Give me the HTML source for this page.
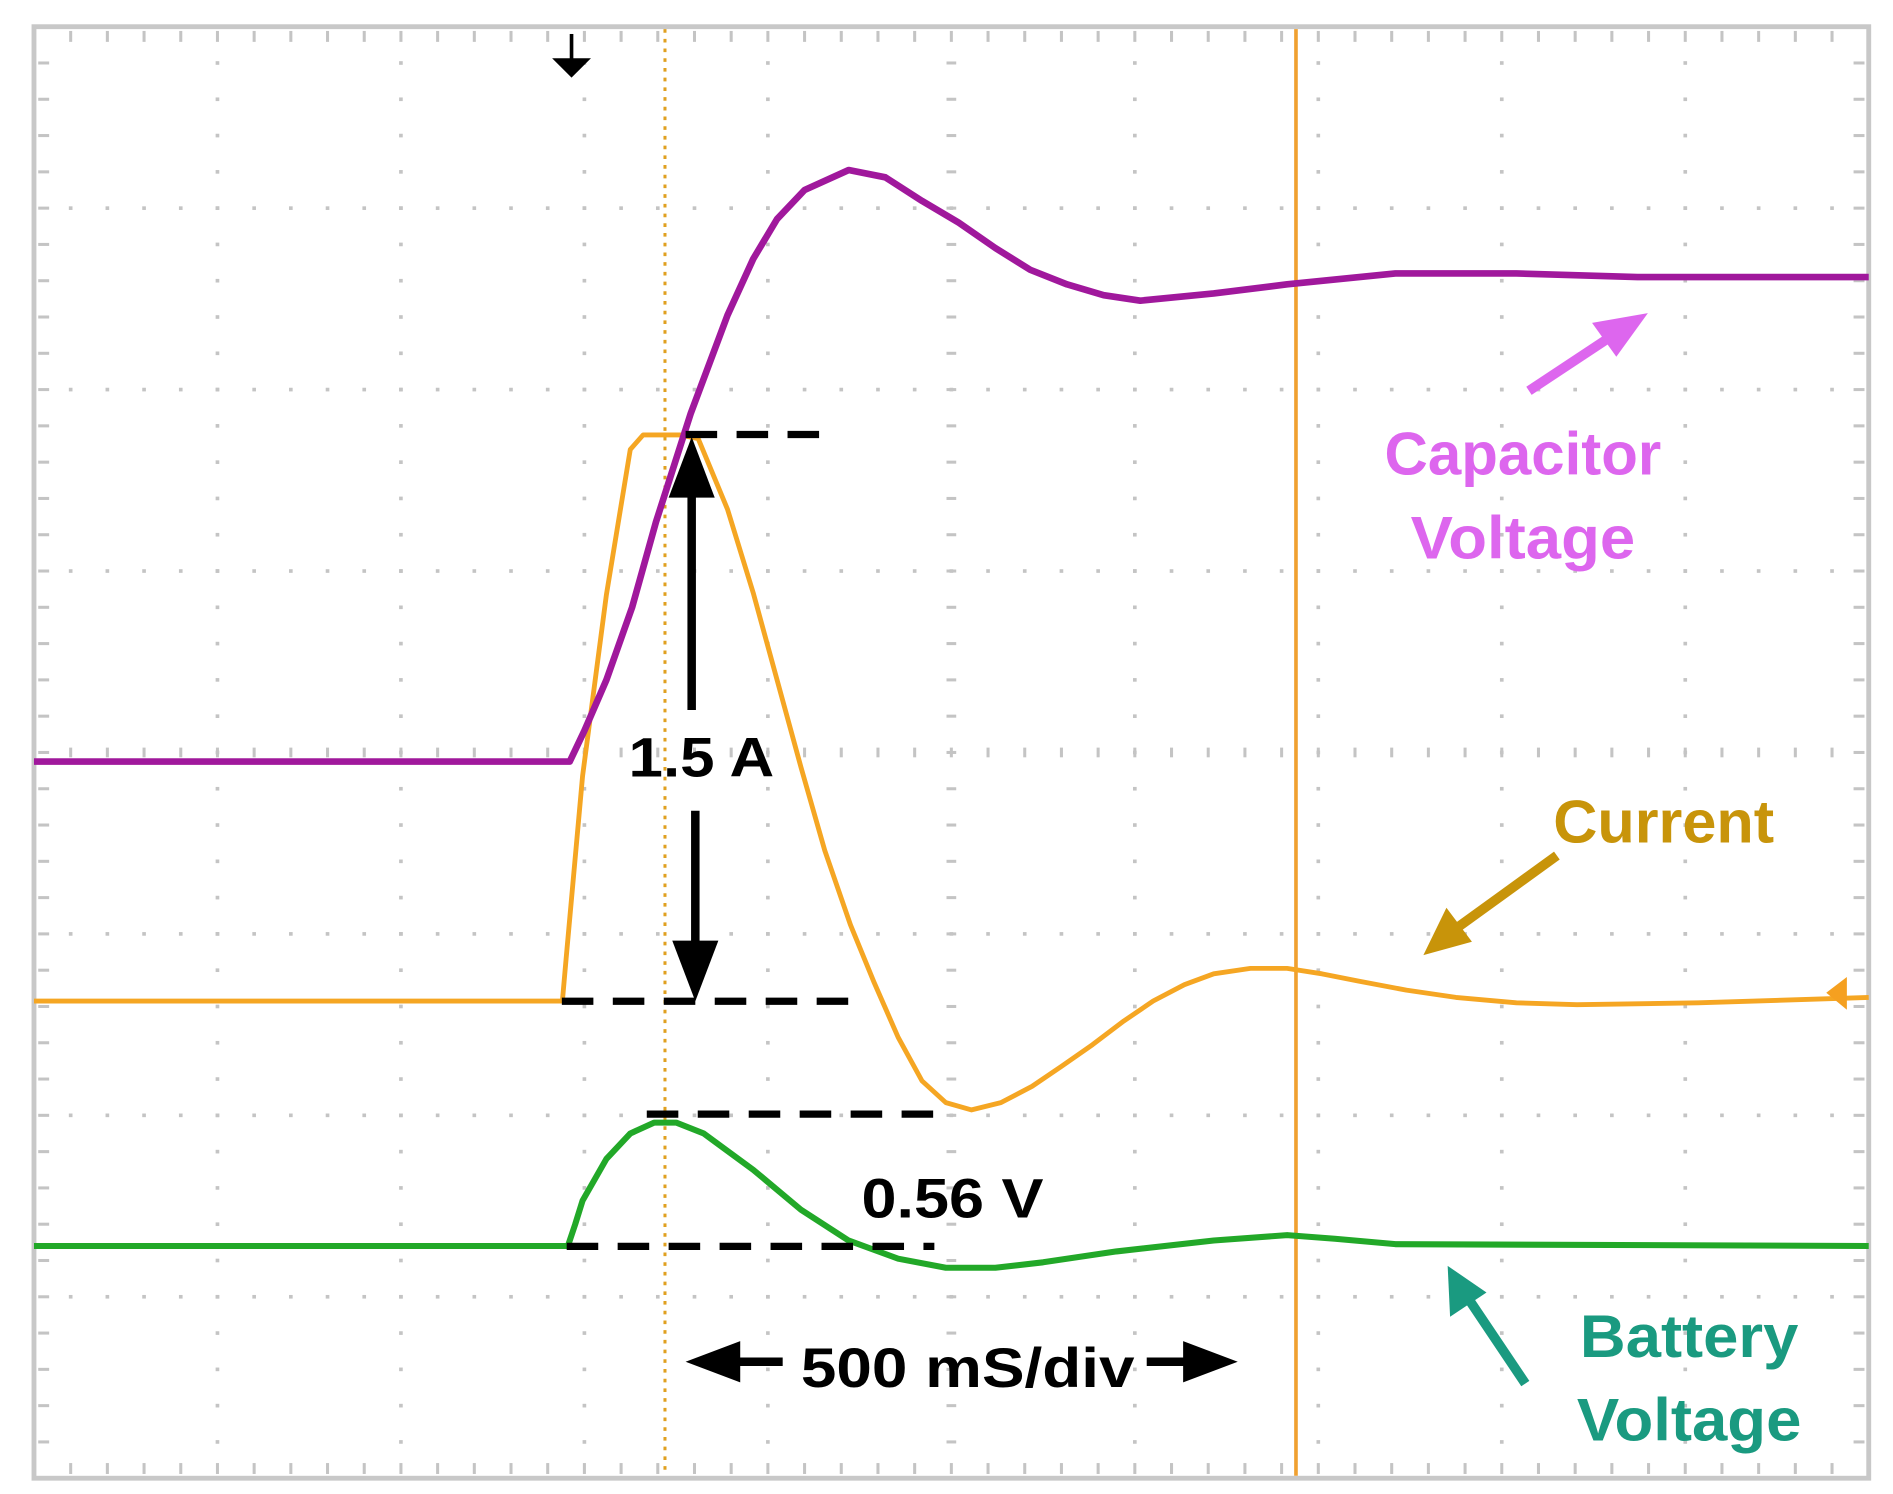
<!DOCTYPE html>
<html><head><meta charset="utf-8"><style>
html,body{margin:0;padding:0;background:#fff;}
svg{display:block;}
text{font-family:"Liberation Sans",sans-serif;font-weight:bold;}
</style></head><body>
<svg id="chart" width="1893" height="1494" viewBox="0 0 1560 1231" preserveAspectRatio="none" xmlns="http://www.w3.org/2000/svg">
<rect x="0" y="0" width="1560" height="1231" fill="#fff"/>
<g id="grid"></g>
<rect x="28" y="22" width="1512" height="1196" fill="none" stroke="#c8c8c8" stroke-width="4"/>
<line x1="548" y1="24" x2="548" y2="1216" stroke="#e0a020" stroke-width="2.5" stroke-dasharray="3,5"/>
<line x1="1068" y1="24" x2="1068" y2="1216" stroke="#f0a030" stroke-width="3"/>
<g id="series"></g>
<g>
<line x1="471" y1="28" x2="471" y2="50" stroke="#000" stroke-width="3"/>
<polygon points="455,48 487,48 471,64" fill="#000"/>
</g>
<polygon points="1505,818 1522,805 1522,832" fill="#f5a020"/>
<g stroke="#000" stroke-width="6" stroke-dasharray="26,16" fill="none">
<line x1="565" y1="358" x2="680" y2="358"/>
<line x1="463" y1="825" x2="705" y2="825"/>
<line x1="533" y1="918" x2="775" y2="918"/>
<line x1="467" y1="1027" x2="770" y2="1027"/>
</g>
<g>
<line x1="570" y1="585" x2="570" y2="400" stroke="#000" stroke-width="7"/>
<polygon points="551,410 589,410 570,360" fill="#000"/>
<line x1="573" y1="668" x2="573" y2="785" stroke="#000" stroke-width="7"/>
<polygon points="554,775 592,775 573,825" fill="#000"/>
</g>
<text x="518" y="640" font-size="46" textLength="120" lengthAdjust="spacingAndGlyphs">1.5 A</text>
<text x="710" y="1003" font-size="46" textLength="150" lengthAdjust="spacingAndGlyphs">0.56 V</text>
<g>
<line x1="600" y1="1122" x2="645" y2="1122" stroke="#000" stroke-width="7"/>
<polygon points="565,1122 610,1105 610,1139" fill="#000"/>
<line x1="945" y1="1122" x2="985" y2="1122" stroke="#000" stroke-width="7"/>
<polygon points="1020,1122 975,1105 975,1139" fill="#000"/>
</g>
<text x="660" y="1143" font-size="46" textLength="275" lengthAdjust="spacingAndGlyphs">500 mS/div</text>
<text fill="#dd66ee" font-size="50" text-anchor="middle"><tspan x="1255" y="391" textLength="228" lengthAdjust="spacingAndGlyphs">Capacitor</tspan><tspan x="1255" y="460" textLength="185" lengthAdjust="spacingAndGlyphs">Voltage</tspan></text>
<g><line x1="1260" y1="322" x2="1328" y2="277" stroke="#dd66ee" stroke-width="8"/><polygon points="1358,258 1312,266 1332,294" fill="#dd66ee"/></g>
<text x="1280" y="694" fill="#c8940a" font-size="50" textLength="182" lengthAdjust="spacingAndGlyphs">Current</text>
<g><line x1="1283" y1="705" x2="1200" y2="765" stroke="#c8940a" stroke-width="8"/><polygon points="1173,787 1192,748 1213,776" fill="#c8940a"/></g>
<text fill="#1a9a80" font-size="50" text-anchor="middle"><tspan x="1392" y="1118" textLength="180" lengthAdjust="spacingAndGlyphs">Battery</tspan><tspan x="1392" y="1187" textLength="185" lengthAdjust="spacingAndGlyphs">Voltage</tspan></text>
<g><line x1="1257" y1="1140" x2="1210" y2="1070" stroke="#1a9a80" stroke-width="8"/><polygon points="1193,1043 1195,1085 1225,1065" fill="#1a9a80"/></g>
</svg>
<script>
// time in divisions (500 ms/div), values in vertical divisions relative to screen center
const capTime = [0,2.92,3.0,3.12,3.26,3.39,3.58,3.78,3.92,4.05,4.2,4.44,4.64,4.84,5.04,5.24,5.43,5.63,5.83,6.03,6.43,6.83,7.42,8.08,8.74,10];
const capValue = [-0.05,-0.05,0.12,0.4,0.8,1.27,1.87,2.41,2.72,2.94,3.1,3.21,3.17,3.04,2.92,2.78,2.66,2.58,2.52,2.49,2.53,2.58,2.64,2.64,2.62,2.62];
const curTime = [0,2.88,2.90,2.99,3.12,3.25,3.32,3.52,3.62,3.78,3.92,4.05,4.18,4.31,4.45,4.58,4.71,4.84,4.97,5.11,5.27,5.44,5.60,5.77,5.94,6.10,6.27,6.43,6.63,6.83,7.02,7.22,7.48,7.75,8.08,8.41,9.07,10];
const curValue = [-1.37,-1.37,-1.14,-0.13,0.87,1.67,1.75,1.75,1.73,1.34,0.88,0.40,-0.08,-0.54,-0.95,-1.27,-1.57,-1.81,-1.93,-1.97,-1.93,-1.84,-1.73,-1.61,-1.48,-1.37,-1.28,-1.22,-1.19,-1.19,-1.22,-1.26,-1.31,-1.35,-1.38,-1.39,-1.38,-1.35];
const batTime = [0,2.91,2.95,2.99,3.12,3.25,3.38,3.50,3.65,3.92,4.18,4.44,4.71,4.97,5.24,5.50,5.90,6.43,6.83,7.09,7.42,10];
const batValue = [-2.72,-2.72,-2.60,-2.47,-2.24,-2.10,-2.04,-2.04,-2.10,-2.30,-2.52,-2.69,-2.79,-2.84,-2.84,-2.81,-2.75,-2.69,-2.66,-2.68,-2.71,-2.72];

const X0=28, DX=151.2, Y0=620, DY=149.5;
function xs(t){return X0+t*DX;}
function ys(v){return Y0-v*DY;}
const NS='http://www.w3.org/2000/svg';

const grid=document.getElementById('grid');
function dot(x,y,w,h){
  const r=document.createElementNS(NS,'rect');
  r.setAttribute('x',x-w/2);r.setAttribute('y',y-h/2);r.setAttribute('width',w);r.setAttribute('height',h);
  r.setAttribute('fill','#c4c4c4');
  
  
  grid.appendChild(r);
}
for(let i=1;i<10;i++){for(let k=0;k<=40;k++){const y=22+k*1196/40; if(i===5) dot(xs(i),y,8,2.5); else dot(xs(i),y,3,3);}}
for(let j=1;j<8;j++){for(let k=0;k<=50;k++){const x=28+k*1512/50; if(j===4) dot(x,22+j*DY,2.5,8); else dot(x,22+j*DY,3,3);}}
for(let k=0;k<=50;k++){const x=28+k*1512/50; dot(x,30,2.5,9); dot(x,1210,2.5,9);}
for(let k=0;k<=40;k++){const y=22+k*1196/40; dot(36,y,9,2.5); dot(1532,y,9,2.5);}

const series=document.getElementById('series');
function trace(ts,vs,color,w,name){
  const p=document.createElementNS(NS,'polyline');
  p.setAttribute('points',ts.map((t,i)=>xs(t)+','+ys(vs[i])).join(' '));
  p.setAttribute('fill','none');p.setAttribute('stroke',color);p.setAttribute('stroke-width',w);
  p.setAttribute('stroke-linejoin','round');
  
  
  series.appendChild(p);
}
trace(batTime,batValue,'#22a828',5,'battery-voltage-trace');
trace(curTime,curValue,'#f5a623',4,'current-trace');
trace(capTime,capValue,'#a0189c',5.5,'capacitor-voltage-trace');
</script>
</body></html>
